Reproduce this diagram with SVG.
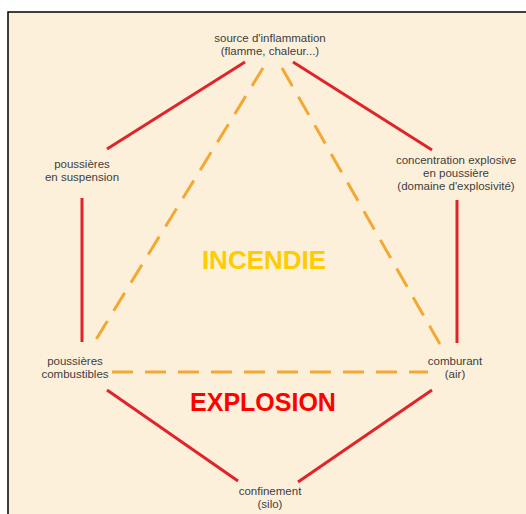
<svg xmlns="http://www.w3.org/2000/svg" width="526" height="514" viewBox="0 0 526 514">
  <defs>
    <style>
      .lbl { font-family: "Liberation Sans", Arial, sans-serif; font-size: 11.5px; fill: #3d3d3d; text-anchor: middle; }
      .big { font-family: "Liberation Sans", Arial, sans-serif; font-weight: bold; text-anchor: middle; }
      .solid { stroke: #E0242B; stroke-width: 3; stroke-linecap: butt; fill: none; }
      .dash { stroke: #F2A933; stroke-width: 3; stroke-dasharray: 21 12; fill: none; }
    </style>
  </defs>
  <rect width="526" height="514" fill="#ffffff"/>
  <rect x="8" y="12" width="518" height="502" fill="#FDF0DA"/>
  <path d="M8 514 V12 H526" fill="none" stroke="#000" stroke-width="1.5"/>

  <g id="connectors">
    <line class="solid" x1="245" y1="62" x2="107" y2="149"/>
    <line class="solid" x1="293" y1="62" x2="432" y2="150"/>
    <line class="solid" x1="82" y1="198" x2="82" y2="342"/>
    <line class="solid" x1="457" y1="200" x2="457" y2="343"/>
    <line class="solid" x1="107" y1="390" x2="238" y2="481"/>
    <line class="solid" x1="432" y1="390" x2="298" y2="482"/>
    <line class="dash" x1="263" y1="68" x2="92" y2="346"/>
    <line class="dash" x1="282" y1="68" x2="441" y2="346"/>
    <line class="dash" x1="112" y1="372" x2="428" y2="372"/>
  </g>

  <g id="source">
    <text class="lbl" x="270" y="42">source d'inflammation</text>
    <text class="lbl" x="270" y="55">(flamme, chaleur...)</text>
  </g>
  <g id="suspension">
    <text class="lbl" x="82" y="168">poussières</text>
    <text class="lbl" x="82" y="181">en suspension</text>
  </g>
  <g id="concentration">
    <text class="lbl" x="456" y="164">concentration explosive</text>
    <text class="lbl" x="456" y="177">en poussière</text>
    <text class="lbl" x="456" y="190">(domaine d'explosivité)</text>
  </g>
  <g id="combustibles">
    <text class="lbl" x="75" y="365">poussières</text>
    <text class="lbl" x="75" y="378">combustibles</text>
  </g>
  <g id="comburant">
    <text class="lbl" x="455" y="365">comburant</text>
    <text class="lbl" x="455" y="378">(air)</text>
  </g>
  <g id="confinement">
    <text class="lbl" x="270" y="495">confinement</text>
    <text class="lbl" x="270" y="508">(silo)</text>
  </g>

  <g id="incendie">
    <text class="big" x="264" y="269" font-size="26" fill="#FFCC00">INCENDIE</text>
  </g>
  <g id="explosion">
    <text class="big" x="263" y="411" font-size="25" fill="#FF0000">EXPLOSION</text>
  </g>
</svg>
